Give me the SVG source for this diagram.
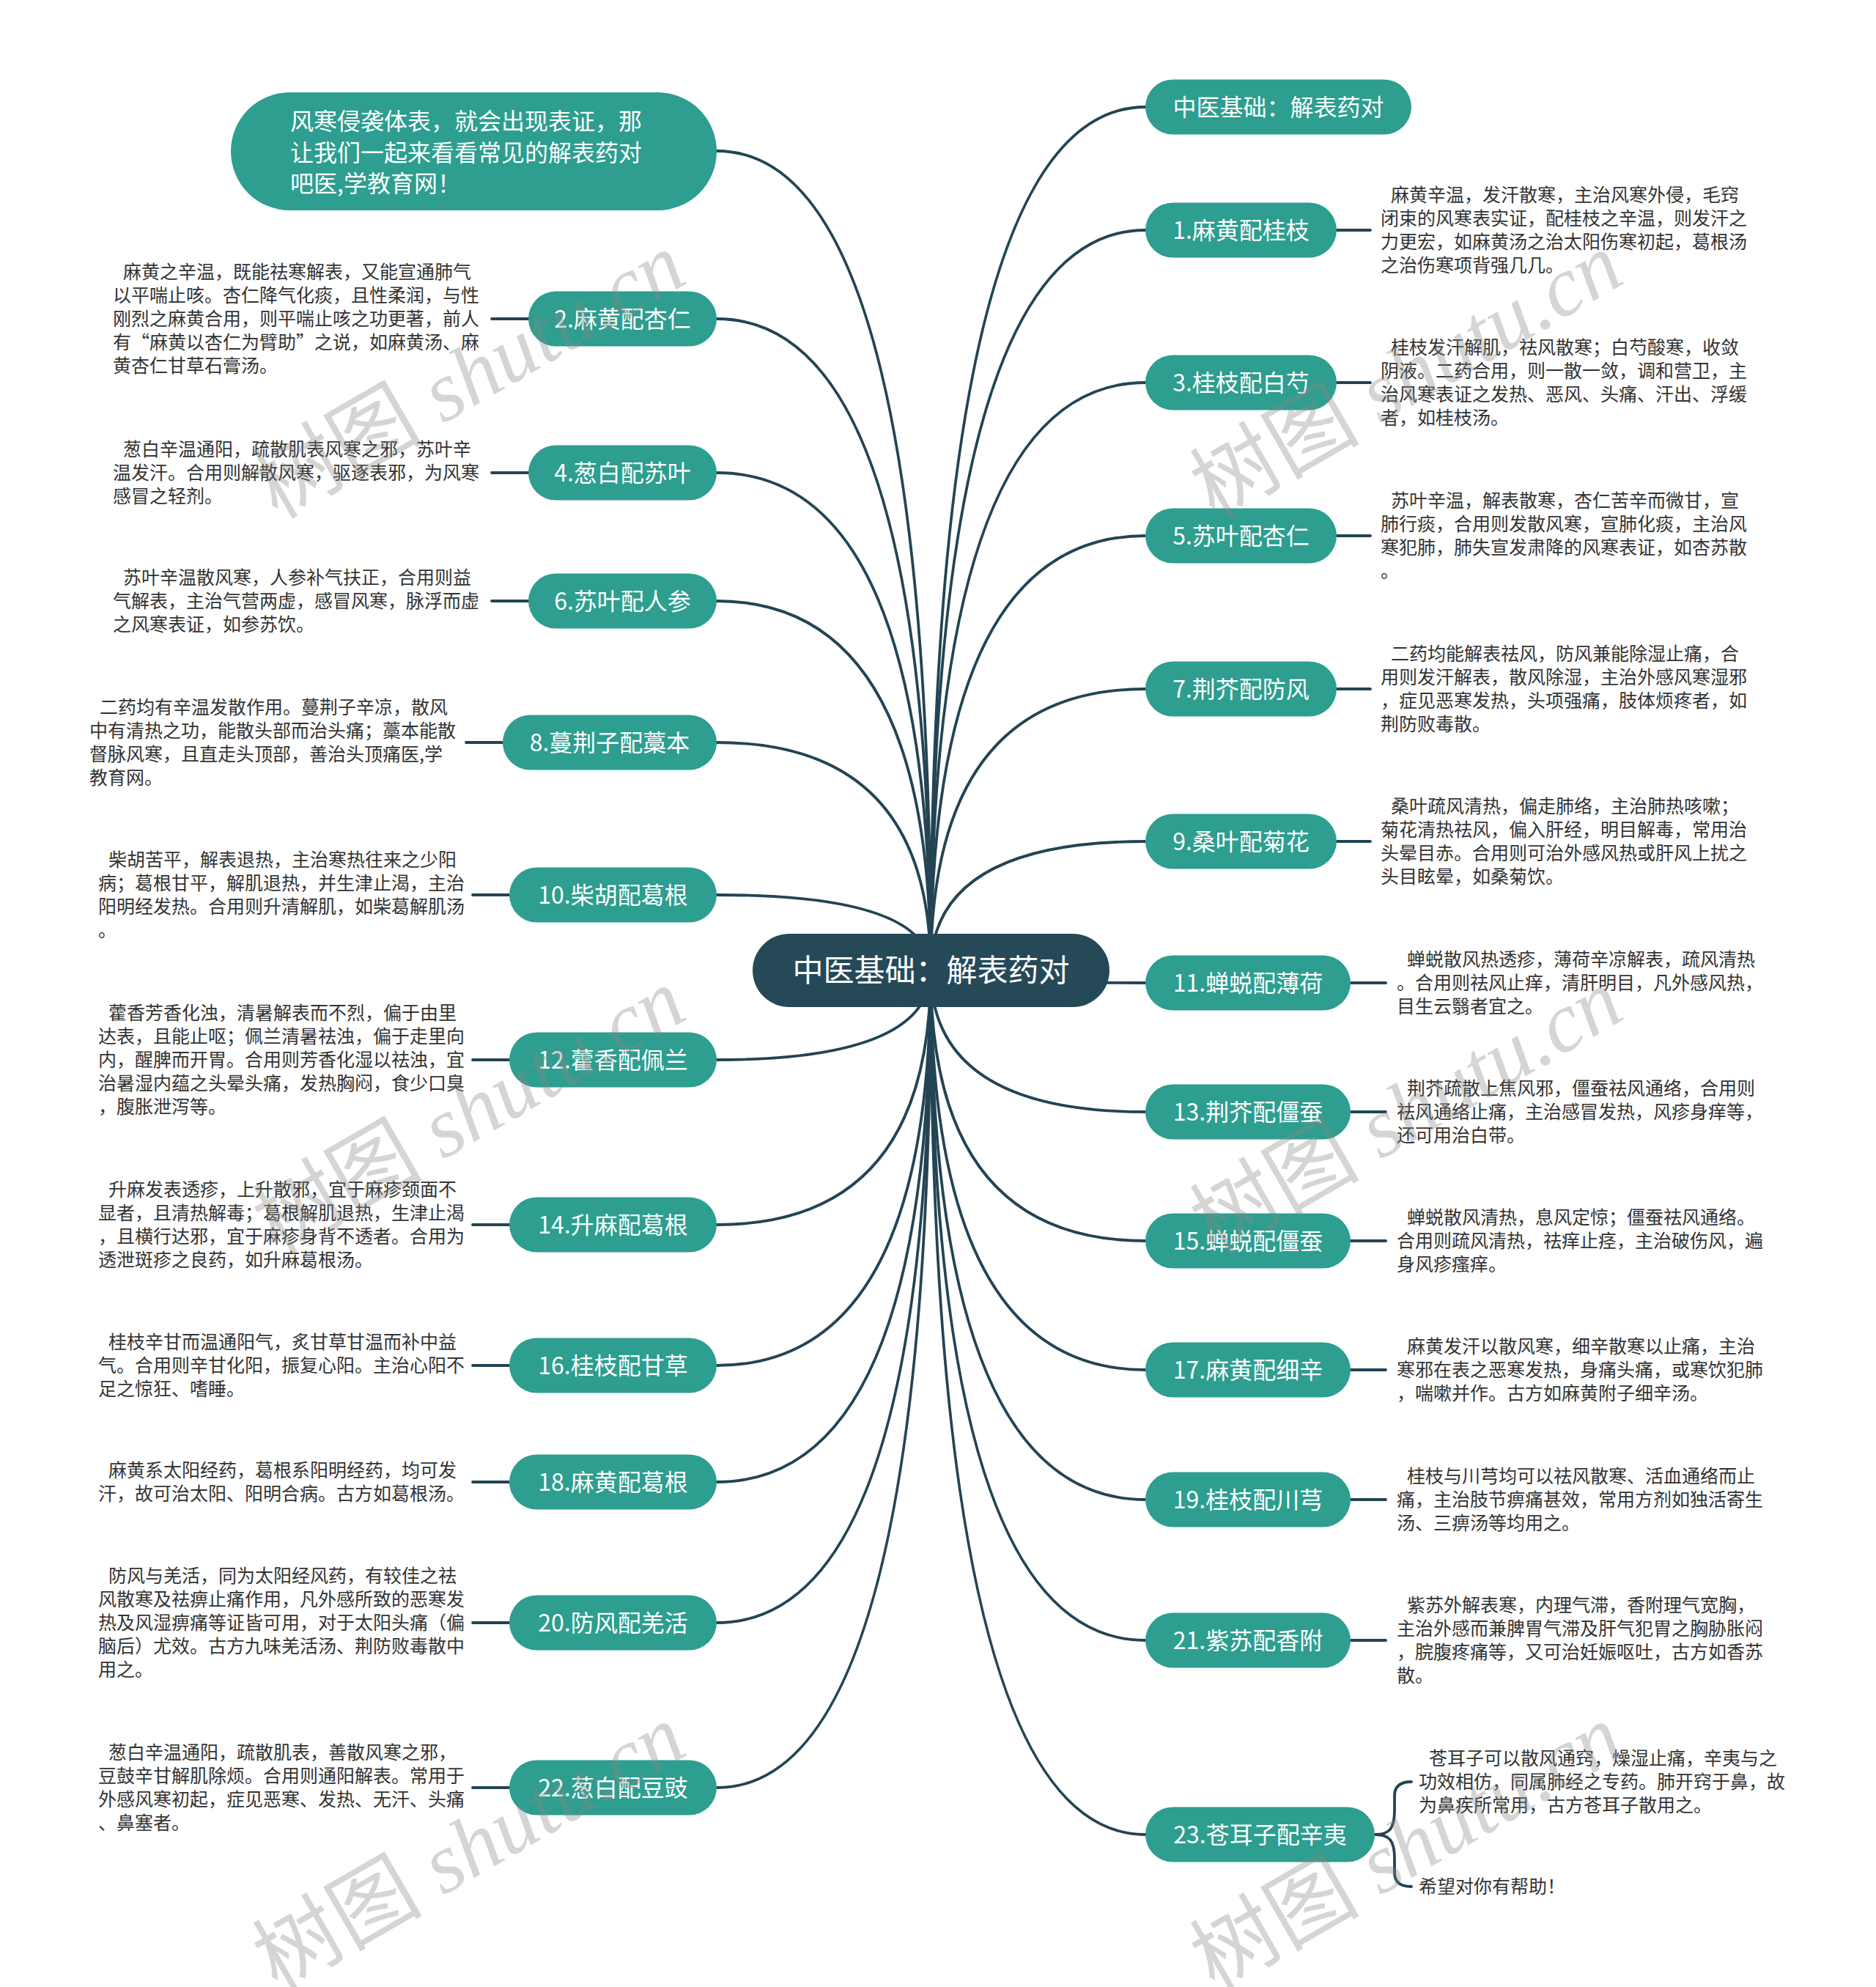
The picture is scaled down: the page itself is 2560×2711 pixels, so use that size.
<svg xmlns="http://www.w3.org/2000/svg" width="2560" height="2711" viewBox="0 0 2560 2711">
<style>
text{font-family:'Noto Sans CJK SC','Noto Sans',sans-serif}
.n rect{fill:#2d9e8f}
.n text{fill:#fff;font-size:32px;text-anchor:middle}
.d{fill:#333;font-size:25px}
.c path{fill:none;stroke:#234454;stroke-width:3.8;stroke-linecap:round}
.wm{font-family:'Liberation Serif','Noto Sans CJK SC',serif;font-size:116px;fill:#888;fill-opacity:.35;text-anchor:middle}
</style>
<rect width="2560" height="2711" fill="#fff"/>
<g id="connectors" class="c">
<path d="M1270,1324 Q1270,206 978,206"/>
<path d="M1270,1324 Q1270,435 978,435"/>
<path d="M1270,1324 Q1270,645 978,645"/>
<path d="M1270,1324 Q1270,820 978,820"/>
<path d="M1270,1324 Q1270,1013 978,1013"/>
<path d="M1270,1324 Q1270,1221 978,1221"/>
<path d="M1270,1324 Q1270,1446 978,1446"/>
<path d="M1270,1324 Q1270,1671 978,1671"/>
<path d="M1270,1324 Q1270,1863 978,1863"/>
<path d="M1270,1324 Q1270,2022 978,2022"/>
<path d="M1270,1324 Q1270,2214 978,2214"/>
<path d="M1270,1324 Q1270,2439 978,2439"/>
<path d="M1270,1324 Q1270,146 1563,146"/>
<path d="M1270,1324 Q1270,314 1563,314"/>
<path d="M1270,1324 Q1270,522 1563,522"/>
<path d="M1270,1324 Q1270,731 1563,731"/>
<path d="M1270,1324 Q1270,940 1563,940"/>
<path d="M1270,1324 Q1270,1148 1563,1148"/>
<path d="M1270,1324 Q1270,1341 1563,1341"/>
<path d="M1270,1324 Q1270,1517 1563,1517"/>
<path d="M1270,1324 Q1270,1693 1563,1693"/>
<path d="M1270,1324 Q1270,1869 1563,1869"/>
<path d="M1270,1324 Q1270,2046 1563,2046"/>
<path d="M1270,1324 Q1270,2238 1563,2238"/>
<path d="M1270,1324 Q1270,2503 1563,2503"/>
<path d="M671,435 H721"/>
<path d="M671,645 H721"/>
<path d="M671,820 H721"/>
<path d="M636,1013 H686"/>
<path d="M645,1221 H695"/>
<path d="M645,1446 H695"/>
<path d="M645,1671 H695"/>
<path d="M645,1863 H695"/>
<path d="M645,2022 H695"/>
<path d="M645,2214 H695"/>
<path d="M645,2439 H695"/>
<path d="M1824,314 H1870"/>
<path d="M1824,522 H1870"/>
<path d="M1824,731 H1870"/>
<path d="M1824,940 H1870"/>
<path d="M1824,1148 H1870"/>
<path d="M1843,1341 H1891"/>
<path d="M1843,1517 H1891"/>
<path d="M1843,1693 H1891"/>
<path d="M1843,1869 H1891"/>
<path d="M1843,2046 H1891"/>
<path d="M1843,2238 H1891"/>
<path d="M1876,2503 C1896,2503 1903,2495 1903,2470 L1903,2450 Q1903,2431 1926,2431"/>
<path d="M1876,2503 C1896,2503 1903,2511 1903,2536 L1903,2555 Q1903,2574 1926,2574"/>
</g>

<g id="root"><rect x="1027" y="1274" width="487" height="100" rx="50" fill="#264958"/><text x="1270.5" y="1339" fill="#fff" font-size="42" text-anchor="middle">中医基础：解表药对</text></g>

<g id="intro" class="n"><rect x="315" y="126" width="663" height="161" rx="80.5"/><text style="text-anchor:start"><tspan x="396" y="177">风寒侵袭体表，就会出现表证，那</tspan><tspan x="396" y="219.5">让我们一起来看看常见的解表药对</tspan><tspan x="396" y="262">吧医,学教育网！</tspan></text></g>

<g id="n2" class="n"><rect x="721" y="397.5" width="257" height="75" rx="37.5"/><text x="849.5" y="446.5">2.麻黄配杏仁</text></g>
<g id="n4" class="n"><rect x="721" y="607.5" width="257" height="75" rx="37.5"/><text x="849.5" y="656.5">4.葱白配苏叶</text></g>
<g id="n6" class="n"><rect x="721" y="782.5" width="257" height="75" rx="37.5"/><text x="849.5" y="831.5">6.苏叶配人参</text></g>
<g id="n8" class="n"><rect x="686" y="975.5" width="292" height="75" rx="37.5"/><text x="832" y="1024.5">8.蔓荆子配藁本</text></g>
<g id="n10" class="n"><rect x="695" y="1183.5" width="283" height="75" rx="37.5"/><text x="836.5" y="1232.5">10.柴胡配葛根</text></g>
<g id="n12" class="n"><rect x="695" y="1408.5" width="283" height="75" rx="37.5"/><text x="836.5" y="1457.5">12.藿香配佩兰</text></g>
<g id="n14" class="n"><rect x="695" y="1633.5" width="283" height="75" rx="37.5"/><text x="836.5" y="1682.5">14.升麻配葛根</text></g>
<g id="n16" class="n"><rect x="695" y="1825.5" width="283" height="75" rx="37.5"/><text x="836.5" y="1874.5">16.桂枝配甘草</text></g>
<g id="n18" class="n"><rect x="695" y="1984.5" width="283" height="75" rx="37.5"/><text x="836.5" y="2033.5">18.麻黄配葛根</text></g>
<g id="n20" class="n"><rect x="695" y="2176.5" width="283" height="75" rx="37.5"/><text x="836.5" y="2225.5">20.防风配羌活</text></g>
<g id="n22" class="n"><rect x="695" y="2401.5" width="283" height="75" rx="37.5"/><text x="836.5" y="2450.5">22.葱白配豆豉</text></g>

<g id="ntop" class="n"><rect x="1563" y="108.5" width="363" height="75" rx="37.5"/><text x="1744.5" y="157.5">中医基础：解表药对</text></g>
<g id="n1" class="n"><rect x="1563" y="276.5" width="261" height="75" rx="37.5"/><text x="1693.5" y="325.5">1.麻黄配桂枝</text></g>
<g id="n3" class="n"><rect x="1563" y="484.5" width="261" height="75" rx="37.5"/><text x="1693.5" y="533.5">3.桂枝配白芍</text></g>
<g id="n5" class="n"><rect x="1563" y="693.5" width="261" height="75" rx="37.5"/><text x="1693.5" y="742.5">5.苏叶配杏仁</text></g>
<g id="n7" class="n"><rect x="1563" y="902.5" width="261" height="75" rx="37.5"/><text x="1693.5" y="951.5">7.荆芥配防风</text></g>
<g id="n9" class="n"><rect x="1563" y="1110.5" width="261" height="75" rx="37.5"/><text x="1693.5" y="1159.5">9.桑叶配菊花</text></g>
<g id="n11" class="n"><rect x="1563" y="1303.5" width="280" height="75" rx="37.5"/><text x="1703" y="1352.5">11.蝉蜕配薄荷</text></g>
<g id="n13" class="n"><rect x="1563" y="1479.5" width="280" height="75" rx="37.5"/><text x="1703" y="1528.5">13.荆芥配僵蚕</text></g>
<g id="n15" class="n"><rect x="1563" y="1655.5" width="280" height="75" rx="37.5"/><text x="1703" y="1704.5">15.蝉蜕配僵蚕</text></g>
<g id="n17" class="n"><rect x="1563" y="1831.5" width="280" height="75" rx="37.5"/><text x="1703" y="1880.5">17.麻黄配细辛</text></g>
<g id="n19" class="n"><rect x="1563" y="2008.5" width="280" height="75" rx="37.5"/><text x="1703" y="2057.5">19.桂枝配川芎</text></g>
<g id="n21" class="n"><rect x="1563" y="2200.5" width="280" height="75" rx="37.5"/><text x="1703" y="2249.5">21.紫苏配香附</text></g>
<g id="n23" class="n"><rect x="1563" y="2465.5" width="313" height="75" rx="37.5"/><text x="1719.5" y="2514.5">23.苍耳子配辛夷</text></g>

<g id="d2"><text class="d"><tspan x="168" y="380">麻黄之辛温，既能祛寒解表，又能宣通肺气</tspan><tspan x="154" y="412">以平喘止咳。杏仁降气化痰，且性柔润，与性</tspan><tspan x="154" y="444">刚烈之麻黄合用，则平喘止咳之功更著，前人</tspan><tspan x="154" y="476">有“麻黄以杏仁为臂助”之说，如麻黄汤、麻</tspan><tspan x="154" y="508">黄杏仁甘草石膏汤。</tspan></text></g>
<g id="d4"><text class="d"><tspan x="168" y="622">葱白辛温通阳，疏散肌表风寒之邪，苏叶辛</tspan><tspan x="154" y="654">温发汗。合用则解散风寒，驱逐表邪，为风寒</tspan><tspan x="154" y="686">感冒之轻剂。</tspan></text></g>
<g id="d6"><text class="d"><tspan x="168" y="797">苏叶辛温散风寒，人参补气扶正，合用则益</tspan><tspan x="154" y="829">气解表，主治气营两虚，感冒风寒，脉浮而虚</tspan><tspan x="154" y="861">之风寒表证，如参苏饮。</tspan></text></g>
<g id="d8"><text class="d"><tspan x="136" y="974">二药均有辛温发散作用。蔓荆子辛凉，散风</tspan><tspan x="122" y="1006">中有清热之功，能散头部而治头痛；藁本能散</tspan><tspan x="122" y="1038">督脉风寒，且直走头顶部，善治头顶痛医,学</tspan><tspan x="122" y="1070">教育网。</tspan></text></g>
<g id="d10"><text class="d"><tspan x="148" y="1182">柴胡苦平，解表退热，主治寒热往来之少阳</tspan><tspan x="134" y="1214">病；葛根甘平，解肌退热，并生津止渴，主治</tspan><tspan x="134" y="1246">阳明经发热。合用则升清解肌，如柴葛解肌汤</tspan><tspan x="134" y="1278">。</tspan></text></g>
<g id="d12"><text class="d"><tspan x="148" y="1391">藿香芳香化浊，清暑解表而不烈，偏于由里</tspan><tspan x="134" y="1423">达表，且能止呕；佩兰清暑祛浊，偏于走里向</tspan><tspan x="134" y="1455">内，醒脾而开胃。合用则芳香化湿以祛浊，宜</tspan><tspan x="134" y="1487">治暑湿内蕴之头晕头痛，发热胸闷，食少口臭</tspan><tspan x="134" y="1519">，腹胀泄泻等。</tspan></text></g>
<g id="d14"><text class="d"><tspan x="148" y="1632">升麻发表透疹，上升散邪，宜于麻疹颈面不</tspan><tspan x="134" y="1664">显者，且清热解毒；葛根解肌退热，生津止渴</tspan><tspan x="134" y="1696">，且横行达邪，宜于麻疹身背不透者。合用为</tspan><tspan x="134" y="1728">透泄斑疹之良药，如升麻葛根汤。</tspan></text></g>
<g id="d16"><text class="d"><tspan x="148" y="1840">桂枝辛甘而温通阳气，炙甘草甘温而补中益</tspan><tspan x="134" y="1872">气。合用则辛甘化阳，振复心阳。主治心阳不</tspan><tspan x="134" y="1904">足之惊狂、嗜睡。</tspan></text></g>
<g id="d18"><text class="d"><tspan x="148" y="2015">麻黄系太阳经药，葛根系阳明经药，均可发</tspan><tspan x="134" y="2047">汗，故可治太阳、阳明合病。古方如葛根汤。</tspan></text></g>
<g id="d20"><text class="d"><tspan x="148" y="2159">防风与羌活，同为太阳经风药，有较佳之祛</tspan><tspan x="134" y="2191">风散寒及祛痹止痛作用，凡外感所致的恶寒发</tspan><tspan x="134" y="2223">热及风湿痹痛等证皆可用，对于太阳头痛（偏</tspan><tspan x="134" y="2255">脑后）尤效。古方九味羌活汤、荆防败毒散中</tspan><tspan x="134" y="2287">用之。</tspan></text></g>
<g id="d22"><text class="d"><tspan x="148" y="2400">葱白辛温通阳，疏散肌表，善散风寒之邪，</tspan><tspan x="134" y="2432">豆鼓辛甘解肌除烦。合用则通阳解表。常用于</tspan><tspan x="134" y="2464">外感风寒初起，症见恶寒、发热、无汗、头痛</tspan><tspan x="134" y="2496">、鼻塞者。</tspan></text></g>

<g id="d1"><text class="d"><tspan x="1898" y="275">麻黄辛温，发汗散寒，主治风寒外侵，毛窍</tspan><tspan x="1884" y="307">闭束的风寒表实证，配桂枝之辛温，则发汗之</tspan><tspan x="1884" y="339">力更宏，如麻黄汤之治太阳伤寒初起，葛根汤</tspan><tspan x="1884" y="371">之治伤寒项背强几几。</tspan></text></g>
<g id="d3"><text class="d"><tspan x="1898" y="483">桂枝发汗解肌，祛风散寒；白芍酸寒，收敛</tspan><tspan x="1884" y="515">阴液。二药合用，则一散一敛，调和营卫，主</tspan><tspan x="1884" y="547">治风寒表证之发热、恶风、头痛、汗出、浮缓</tspan><tspan x="1884" y="579">者，如桂枝汤。</tspan></text></g>
<g id="d5"><text class="d"><tspan x="1898" y="692">苏叶辛温，解表散寒，杏仁苦辛而微甘，宣</tspan><tspan x="1884" y="724">肺行痰，合用则发散风寒，宣肺化痰，主治风</tspan><tspan x="1884" y="756">寒犯肺，肺失宣发肃降的风寒表证，如杏苏散</tspan><tspan x="1884" y="788">。</tspan></text></g>
<g id="d7"><text class="d"><tspan x="1898" y="901">二药均能解表祛风，防风兼能除湿止痛，合</tspan><tspan x="1884" y="933">用则发汗解表，散风除湿，主治外感风寒湿邪</tspan><tspan x="1884" y="965">，症见恶寒发热，头项强痛，肢体烦疼者，如</tspan><tspan x="1884" y="997">荆防败毒散。</tspan></text></g>
<g id="d9"><text class="d"><tspan x="1898" y="1109">桑叶疏风清热，偏走肺络，主治肺热咳嗽；</tspan><tspan x="1884" y="1141">菊花清热祛风，偏入肝经，明目解毒，常用治</tspan><tspan x="1884" y="1173">头晕目赤。合用则可治外感风热或肝风上扰之</tspan><tspan x="1884" y="1205">头目眩晕，如桑菊饮。</tspan></text></g>
<g id="d11"><text class="d"><tspan x="1920" y="1318">蝉蜕散风热透疹，薄荷辛凉解表，疏风清热</tspan><tspan x="1906" y="1350">。合用则祛风止痒，清肝明目，凡外感风热，</tspan><tspan x="1906" y="1382">目生云翳者宜之。</tspan></text></g>
<g id="d13"><text class="d"><tspan x="1920" y="1494">荆芥疏散上焦风邪，僵蚕祛风通络，合用则</tspan><tspan x="1906" y="1526">祛风通络止痛，主治感冒发热，风疹身痒等，</tspan><tspan x="1906" y="1558">还可用治白带。</tspan></text></g>
<g id="d15"><text class="d"><tspan x="1920" y="1670">蝉蜕散风清热，息风定惊；僵蚕祛风通络。</tspan><tspan x="1906" y="1702">合用则疏风清热，祛痒止痉，主治破伤风，遍</tspan><tspan x="1906" y="1734">身风疹瘙痒。</tspan></text></g>
<g id="d17"><text class="d"><tspan x="1920" y="1846">麻黄发汗以散风寒，细辛散寒以止痛，主治</tspan><tspan x="1906" y="1878">寒邪在表之恶寒发热，身痛头痛，或寒饮犯肺</tspan><tspan x="1906" y="1910">，喘嗽并作。古方如麻黄附子细辛汤。</tspan></text></g>
<g id="d19"><text class="d"><tspan x="1920" y="2023">桂枝与川芎均可以祛风散寒、活血通络而止</tspan><tspan x="1906" y="2055">痛，主治肢节痹痛甚效，常用方剂如独活寄生</tspan><tspan x="1906" y="2087">汤、三痹汤等均用之。</tspan></text></g>
<g id="d21"><text class="d"><tspan x="1920" y="2199">紫苏外解表寒，内理气滞，香附理气宽胸，</tspan><tspan x="1906" y="2231">主治外感而兼脾胃气滞及肝气犯胃之胸胁胀闷</tspan><tspan x="1906" y="2263">，脘腹疼痛等，又可治妊娠呕吐，古方如香苏</tspan><tspan x="1906" y="2295">散。</tspan></text></g>
<g id="d23a"><text class="d"><tspan x="1950" y="2408">苍耳子可以散风通窍，燥湿止痛，辛夷与之</tspan><tspan x="1936" y="2440">功效相仿，同属肺经之专药。肺开窍于鼻，故</tspan><tspan x="1936" y="2472">为鼻疾所常用，古方苍耳子散用之。</tspan></text></g>
<g id="d23b"><text class="d" x="1936" y="2583">希望对你有帮助！</text></g>

<g id="watermarks">
<g transform="translate(640,512) rotate(-30)"><text class="wm" y="40">树图 <tspan font-style="italic">shutu.cn</tspan></text></g>
<g transform="translate(1919,512) rotate(-30)"><text class="wm" y="40">树图 <tspan font-style="italic">shutu.cn</tspan></text></g>
<g transform="translate(640,1516) rotate(-30)"><text class="wm" y="40">树图 <tspan font-style="italic">shutu.cn</tspan></text></g>
<g transform="translate(1919,1516) rotate(-30)"><text class="wm" y="40">树图 <tspan font-style="italic">shutu.cn</tspan></text></g>
<g transform="translate(640,2520) rotate(-30)"><text class="wm" y="40">树图 <tspan font-style="italic">shutu.cn</tspan></text></g>
<g transform="translate(1919,2520) rotate(-30)"><text class="wm" y="40">树图 <tspan font-style="italic">shutu.cn</tspan></text></g>
</g>
</svg>
